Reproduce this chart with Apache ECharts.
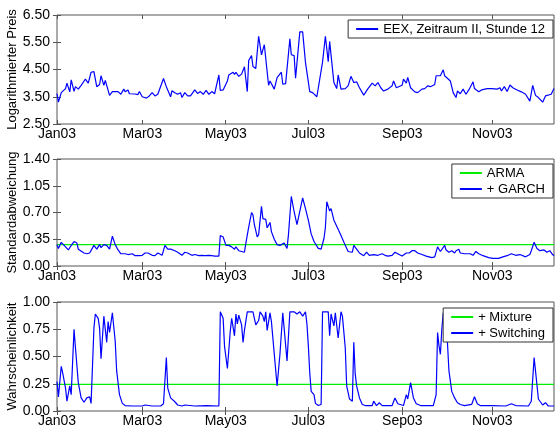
<!DOCTYPE html>
<html>
<head>
<meta charset="utf-8">
<script src="https://cdn.jsdelivr.net/npm/echarts@6/dist/echarts.min.js"></script>
<style>
html,body{margin:0;padding:0;background:#fff;}
#main{width:555px;height:429px;}
</style>
</head>
<body>
<div id="main"></div>
<script>
var xMax = 350;
var monthTicks = [0, 60.1, 118.8, 177, 243.2, 306.5];
var monthNames = ['Jan03', 'Mar03', 'May03', 'Jul03', 'Sep03', 'Nov03'];

var priceTicks = [2.5, 3.5, 4.5, 5.5, 6.5];
var sdTicks = [0, 0.35, 0.7, 1.05, 1.4];
var probTicks = [0, 0.25, 0.5, 0.75, 1];

// EEX, Zeitraum II, Stunde 12 (log price)
var price = [[0,3.62],[1,3.30],[3,3.65],[6,3.8],[7,4.0],[9,3.68],[10,4.12],[12,3.7],[13,3.87],[15,3.78],[17,3.92],[20,4.15],[22,4.0],[24,4.4],[26,4.42],[28,3.87],[30,3.95],[31,4.27],[33,3.92],[34,4.1],[35,4.08],[37,3.55],[39,3.69],[43,3.69],[45,3.59],[47,3.78],[48,3.68],[50,3.75],[51,3.61],[55,3.6],[57,3.58],[58,3.69],[60,3.5],[63,3.45],[65,3.53],[67,3.65],[69,3.53],[71,3.59],[75,4.17],[77,3.87],[80,3.5],[81,3.72],[83,3.65],[85,3.59],[87,3.65],[88,3.47],[90,3.65],[92,3.53],[94,3.53],[97,3.75],[99,3.62],[101,3.69],[103,3.59],[105,3.73],[107,3.59],[109,3.69],[111,3.61],[114,4.3],[115,3.73],[117,3.75],[120,4.08],[121,4.3],[122,4.23],[124,4.4],[125,4.32],[126,4.4],[128,4.25],[130,4.33],[132,4.6],[134,3.69],[135,4.83],[137,5.01],[138,4.61],[140,4.54],[142,5.72],[144,5.04],[146,5.41],[149,3.92],[150,4.08],[153,3.78],[155,4.2],[158,4.4],[159,3.96],[161,3.98],[164,5.63],[165,5.04],[167,5.01],[168,4.18],[171,5.88],[173,5.88],[175,4.75],[178,3.69],[180,3.65],[183,3.5],[187,4.77],[189,5.72],[191,4.79],[192,5.53],[195,4.02],[197,3.8],[198,4.3],[200,3.78],[203,3.8],[205,3.9],[207,4.25],[209,4.02],[211,4.05],[213,3.83],[216,3.56],[219,3.8],[220,3.8],[222,4.0],[224,3.9],[226,4.02],[228,3.83],[230,3.71],[233,3.78],[236,3.9],[237,4.08],[239,3.83],[240,3.83],[243,3.92],[244,4.15],[246,4.0],[247,4.21],[249,3.83],[252,3.68],[254,3.65],[257,3.78],[259,3.8],[261,3.9],[263,3.87],[266,3.95],[267,4.27],[270,4.27],[272,4.49],[273,4.27],[274,4.21],[277,4.08],[279,3.65],[281,3.47],[282,3.71],[284,3.61],[286,3.78],[288,3.59],[290,3.75],[293,4.05],[294,3.8],[297,3.68],[299,3.75],[303,3.8],[306,3.8],[310,3.78],[312,3.83],[313,3.71],[315,3.87],[317,3.69],[319,3.93],[321,3.83],[324,3.75],[327,3.68],[330,3.59],[333,3.34],[335,3.92],[337,3.55],[339,3.47],[342,3.3],[344,3.53],[345,3.49],[348,3.59],[350,3.8]];

// standard deviation, ARMA constant and + GARCH
var armaLevel = 0.28;
var garch = [[0,0.28],[1,0.23],[3,0.31],[5,0.27],[8,0.21],[10,0.27],[12,0.32],[14,0.30],[15,0.22],[19,0.17],[21,0.16],[23,0.17],[24,0.15],[26,0.27],[27,0.27],[28,0.22],[30,0.28],[31,0.24],[33,0.28],[35,0.27],[36,0.26],[37,0.22],[39,0.39],[41,0.28],[43,0.21],[45,0.16],[48,0.16],[50,0.15],[53,0.16],[55,0.135],[58,0.135],[60,0.14],[62,0.17],[64,0.17],[67,0.14],[69,0.135],[71,0.17],[74,0.14],[76,0.27],[78,0.22],[80,0.22],[81,0.24],[83,0.2],[85,0.18],[88,0.14],[90,0.18],[92,0.17],[95,0.14],[97,0.15],[100,0.135],[102,0.14],[104,0.135],[107,0.14],[108,0.16],[109,0.135],[111,0.13],[114,0.13],[115,0.40],[117,0.38],[119,0.27],[121,0.27],[123,0.25],[125,0.22],[126,0.25],[128,0.2],[130,0.19],[132,0.18],[133,0.30],[135,0.51],[137,0.70],[138,0.67],[139,0.54],[141,0.38],[142,0.41],[144,0.78],[145,0.62],[147,0.61],[148,0.50],[150,0.57],[151,0.45],[153,0.35],[155,0.28],[157,0.27],[160,0.30],[162,0.23],[163,0.41],[165,0.91],[167,0.71],[169,0.54],[170,0.56],[173,0.89],[175,0.75],[177,0.60],[179,0.42],[181,0.32],[184,0.23],[186,0.22],[188,0.36],[189,0.50],[190,0.84],[192,0.72],[193,0.75],[195,0.60],[196,0.59],[198,0.48],[200,0.40],[203,0.27],[205,0.19],[208,0.18],[209,0.27],[211,0.22],[213,0.17],[216,0.135],[218,0.18],[220,0.14],[223,0.15],[224,0.17],[226,0.14],[229,0.16],[231,0.14],[233,0.13],[236,0.14],[238,0.18],[241,0.15],[243,0.13],[246,0.17],[248,0.17],[250,0.2],[252,0.2],[254,0.17],[257,0.15],[260,0.13],[264,0.11],[266,0.12],[268,0.25],[270,0.19],[271,0.18],[273,0.27],[274,0.21],[276,0.18],[278,0.2],[280,0.17],[281,0.2],[283,0.22],[284,0.17],[287,0.16],[291,0.16],[293,0.14],[295,0.19],[297,0.16],[300,0.135],[304,0.11],[307,0.10],[311,0.10],[314,0.12],[317,0.135],[320,0.16],[323,0.14],[326,0.15],[330,0.12],[333,0.15],[334,0.2],[336,0.31],[338,0.23],[340,0.2],[343,0.21],[345,0.18],[347,0.2],[349,0.15],[350,0.135]];

// probability, + Mixture constant and + Switching
var mixtureLevel = 0.245;
var switching = [[0,0.27],[1,0.13],[3,0.41],[4,0.35],[6,0.21],[7,0.09],[9,0.23],[10,0.15],[12,0.75],[13,0.58],[15,0.26],[17,0.12],[19,0.08],[20,0.07],[21,0.12],[23,0.13],[24,0.07],[26,0.76],[27,0.89],[29,0.85],[30,0.76],[31,0.48],[33,0.87],[35,0.63],[36,0.82],[37,0.72],[39,0.90],[41,0.64],[42,0.37],[44,0.15],[46,0.07],[48,0.05],[53,0.046],[60,0.046],[62,0.055],[67,0.046],[73,0.046],[75,0.067],[77,0.49],[78,0.21],[80,0.12],[81,0.11],[83,0.085],[85,0.055],[88,0.046],[90,0.055],[97,0.046],[105,0.05],[114,0.046],[115,0.91],[117,0.85],[118,0.59],[120,0.39],[122,0.73],[123,0.85],[125,0.69],[126,0.89],[127,0.80],[128,0.88],[130,0.79],[131,0.63],[132,0.74],[134,0.91],[138,0.91],[140,0.79],[142,0.83],[143,0.91],[145,0.87],[146,0.82],[147,0.91],[148,0.74],[150,0.90],[151,0.82],[155,0.23],[157,0.52],[159,0.90],[162,0.46],[164,0.91],[165,0.91],[167,0.91],[169,0.89],[171,0.91],[173,0.87],[175,0.91],[176,0.80],[177,0.6],[178,0.35],[179,0.18],[180,0.17],[181,0.15],[182,0.07],[184,0.05],[186,0.06],[187,0.91],[191,0.91],[192,0.69],[193,0.89],[195,0.78],[196,0.90],[198,0.67],[200,0.91],[201,0.87],[203,0.58],[204,0.23],[206,0.11],[208,0.09],[209,0.63],[210,0.34],[211,0.23],[213,0.12],[215,0.06],[217,0.05],[222,0.05],[223,0.09],[225,0.05],[227,0.076],[229,0.05],[236,0.05],[238,0.12],[240,0.067],[241,0.05],[244,0.05],[246,0.15],[247,0.11],[249,0.26],[251,0.12],[253,0.067],[256,0.05],[265,0.05],[267,0.15],[268,0.72],[269,0.60],[270,0.52],[271,0.75],[272,0.9],[274,0.85],[275,0.62],[276,0.37],[278,0.18],[280,0.12],[282,0.076],[283,0.09],[284,0.06],[287,0.05],[292,0.06],[294,0.13],[296,0.067],[298,0.05],[306,0.05],[316,0.046],[320,0.067],[323,0.05],[332,0.046],[334,0.09],[336,0.49],[338,0.24],[339,0.11],[342,0.055],[344,0.076],[346,0.046],[350,0.046]];

var font = '"Liberation Sans", Arial, Helvetica, sans-serif';
var frame = '#555';
var blue = '#0000ff';
var green = '#00ee00';

function monthName(v) {
  for (var i = 0; i < monthTicks.length; i++) {
    if (Math.abs(monthTicks[i] - v) < 0.01) return monthNames[i];
  }
  return '';
}

function xPair(gi) {
  var tick = {inside: true, length: 4, customValues: monthTicks, lineStyle: {color: frame}};
  return [
    {type: 'value', gridIndex: gi, min: 0, max: xMax, position: 'bottom',
     axisLine: {show: false}, splitLine: {show: false}, axisTick: tick,
     axisLabel: {customValues: monthTicks, formatter: monthName, margin: 3,
                 color: '#000', fontSize: 14, fontFamily: font}},
    {type: 'value', gridIndex: gi, min: 0, max: xMax, position: 'top',
     axisLine: {show: false}, splitLine: {show: false}, axisTick: tick,
     axisLabel: {show: false}}
  ];
}

function yPair(gi, ticks, name) {
  var tick = {inside: true, length: 4, customValues: ticks, lineStyle: {color: frame}};
  var lo = ticks[0], hi = ticks[ticks.length - 1];
  return [
    {type: 'value', gridIndex: gi, min: lo, max: hi, position: 'left',
     name: name, nameLocation: 'middle', nameGap: 38, nameMoveOverlap: false,
     nameTextStyle: {fontSize: 13, fontFamily: font, color: '#000'},
     axisLine: {show: false}, splitLine: {show: false}, axisTick: tick,
     axisLabel: {customValues: ticks, formatter: function (v) { return v.toFixed(2); },
                 margin: 7, color: '#000', fontSize: 14, fontFamily: font}},
    {type: 'value', gridIndex: gi, min: lo, max: hi, position: 'right',
     axisLine: {show: false}, splitLine: {show: false}, axisTick: tick,
     axisLabel: {show: false}}
  ];
}

function line(name, data, color, xi, yi) {
  return {name: name, type: 'line', data: data, xAxisIndex: xi, yAxisIndex: yi,
          showSymbol: false, symbol: 'none', color: color,
          lineStyle: {color: color, width: 1.2}};
}

var legendBase = {
  backgroundColor: '#fff', borderColor: '#333', borderWidth: 1,
  padding: [2, 8, 2, 8], itemWidth: 22, itemHeight: 2, icon: 'rect',
  itemGap: 2, orient: 'vertical', selectedMode: false, right: 2,
  textStyle: {fontSize: 13, fontFamily: font, color: '#000', lineHeight: 14}
};

function gridAt(top, height) {
  return {left: 57, right: 1, top: top, height: height, show: true,
          borderColor: frame, borderWidth: 1,
          containLabel: false, outerBoundsMode: 'none'};
}

var chart = echarts.init(document.getElementById('main'));
chart.setOption({
  animation: false,
  backgroundColor: '#fff',
  grid: [gridAt(15, 109), gridAt(159, 107), gridAt(302, 109)],
  xAxis: [].concat(xPair(0), xPair(1), xPair(2)),
  yAxis: [].concat(
    yPair(0, priceTicks, 'Logarithmierter Preis'),
    yPair(1, sdTicks, 'Standardabweichung'),
    yPair(2, probTicks, 'Wahrscheinlichkeit')
  ),
  legend: [
    Object.assign({}, legendBase, {top: 20, data: ['EEX, Zeitraum II, Stunde 12']}),
    Object.assign({}, legendBase, {top: 164, data: ['ARMA', '+ GARCH']}),
    Object.assign({}, legendBase, {top: 308, data: ['+ Mixture', '+ Switching']})
  ],
  series: [
    line('EEX, Zeitraum II, Stunde 12', price, blue, 0, 0),
    line('ARMA', [[0, armaLevel], [xMax, armaLevel]], green, 2, 2),
    line('+ GARCH', garch, blue, 2, 2),
    line('+ Mixture', [[0, mixtureLevel], [xMax, mixtureLevel]], green, 4, 4),
    line('+ Switching', switching, blue, 4, 4)
  ]
});
</script>
</body>
</html>
